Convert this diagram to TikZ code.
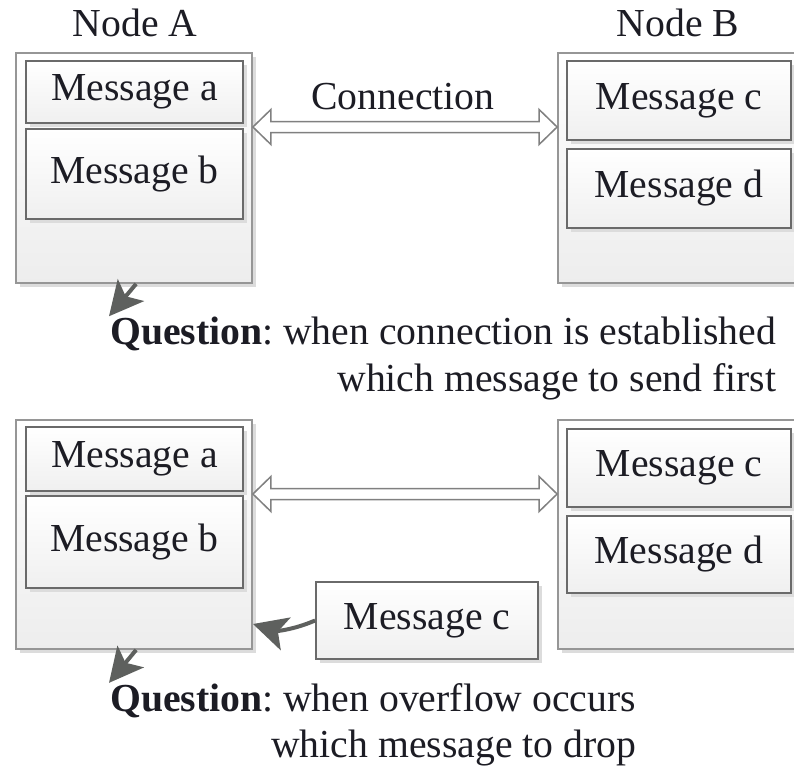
\documentclass[tikz,border=0pt]{standalone}
\usepackage{fontspec}
\setmainfont{Liberation Serif}
\frenchspacing
\usetikzlibrary{arrows.meta,shadows,calc}
\definecolor{txt}{HTML}{1C1C24}
\definecolor{arr}{HTML}{5E605E}
\definecolor{inb}{HTML}{6A6A6A}
\definecolor{outb}{HTML}{969696}
\definecolor{shd}{HTML}{DCDCDC}
\newcommand\myconn[2]{%
  (#1) -- ++(18,-17.5) -- ++(0,12) -- ($(#2)+(-18,-5.5)$) -- ++(0,-12) -- (#2)
  -- ++(-18,17.5) -- ++(0,-12) -- ($(#1)+(18,5.5)$) -- ++(0,12) -- cycle}
\begin{document}
\begin{tikzpicture}[x=1pt,y=-1pt,
  font=\fontsize{39.7}{47}\selectfont\frenchspacing, text=txt,
  shad/.style={drop shadow={shadow xshift=4pt,shadow yshift=-4pt,fill=shd,opacity=1}},
  outerbox/.style={draw=outb, line width=1.8pt, top color=white, bottom color=black!7, shad, inner sep=0pt},
  msgbox/.style={draw=inb, line width=1.8pt, top color=white, bottom color=black!6, shad, inner sep=0pt},
  lbl/.style={inner sep=0pt},
  qarrow/.style={color=arr, line width=4pt, -{Stealth[length=34pt,width=34pt,inset=8pt]}},
  connarrow/.style={draw=black!50, line width=1.5pt, fill=white},
  connshadow/.style={fill=shd, xshift=3pt, yshift=-3pt}]
\useasboundingbox (0,0) rectangle (794,765);
\clip (0,0) rectangle (794,765);

% ---------------- top panel ----------------
\node[lbl, anchor=base] (NA1) at (135,37) {Node A};
\node[lbl, anchor=base] (NB1) at (678,37) {Node B};

\node[outerbox, minimum width=236pt, minimum height=230pt] (A1) at (134,168) {};
\node[msgbox, minimum width=217pt, minimum height=62pt] (A1a) at (134.5,92) {Message a};
\node[msgbox, minimum width=217pt, minimum height=90pt] (A1b) at (134.5,174) {Message b};

\node[outerbox, minimum width=252pt, minimum height=230pt] (B1) at (684,168) {};
\node[msgbox, minimum width=224pt, minimum height=79pt] (B1c) at (679,100.5) {Message c};
\node[msgbox, minimum width=224pt, minimum height=79pt] (B1d) at (679,188.5) {Message d};

\coordinate (c1l) at (A1.east |- 0,127);
\coordinate (c1r) at (B1.west |- 0,127);
\path[connshadow] \myconn{c1l}{c1r};
\path[connarrow] \myconn{c1l}{c1r};
\node[lbl, anchor=base] (conn1) at (403,110) {Connection};

\node[lbl, anchor=base west] (Q1a) at (110,344) {\textbf{Question}: when connection is established};
\node[lbl, anchor=base east] (Q1b) at ([yshift=-47pt]Q1a.base east) {which message to send first};
\draw[qarrow] ([xshift=121pt]A1.south west) -- ([xshift=-1pt]Q1a.north west);

% ---------------- bottom panel ----------------
\node[outerbox, minimum width=236pt, minimum height=229pt] (A2) at (134,534.5) {};
\node[msgbox, minimum width=217pt, minimum height=64pt] (A2a) at (134.5,459) {Message a};
\node[msgbox, minimum width=217pt, minimum height=92pt] (A2b) at (134.5,542) {Message b};

\node[outerbox, minimum width=252pt, minimum height=229pt] (B2) at (684,534.5) {};
\node[msgbox, minimum width=224pt, minimum height=78pt] (B2c) at (679,468) {Message c};
\node[msgbox, minimum width=224pt, minimum height=77pt] (B2d) at (679,554.5) {Message d};

\coordinate (c2l) at (A2.east |- 0,494);
\coordinate (c2r) at (B2.west |- 0,494);
\path[connshadow] \myconn{c2l}{c2r};
\path[connarrow] \myconn{c2l}{c2r};

\node[msgbox, minimum width=222pt, minimum height=77pt] (F) at (427,620.5) {Message c};
\coordinate (t2) at (253,624);
\draw[qarrow] (F.west) to[bend left=20] (t2);

\node[lbl, anchor=base west] (Q2a) at (110,711) {\textbf{Question}: when overflow occurs};
\node[lbl, anchor=base east] (Q2b) at ([yshift=-46pt]Q2a.base east) {which message to drop};
\draw[qarrow] ([xshift=121pt]A2.south west) -- ([xshift=-1pt]Q2a.north west);
\end{tikzpicture}
\end{document}
